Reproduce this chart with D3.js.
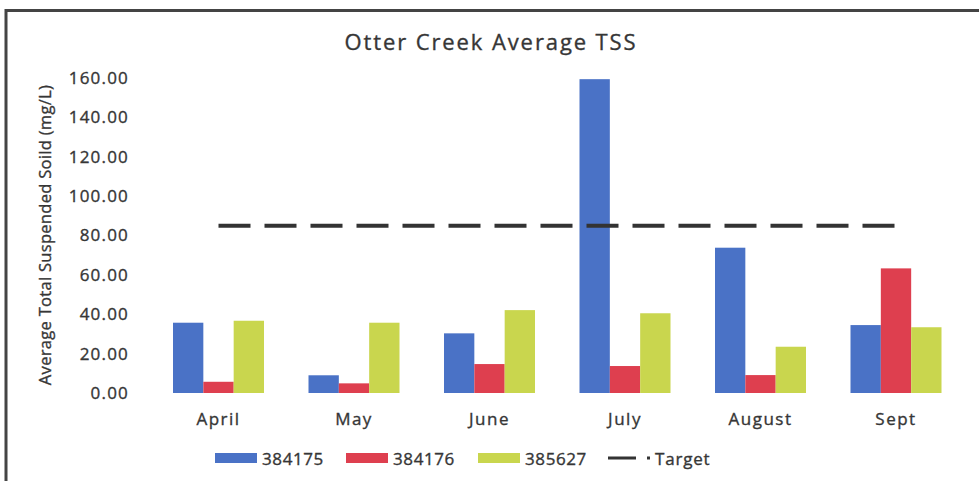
<!DOCTYPE html>
<html>
<head>
<meta charset="utf-8">
<script src="https://cdn.jsdelivr.net/npm/d3@7"></script>
<style>
  body { margin: 0; background: #fff; }
  text { font-family: "Open Sans", sans-serif; fill: #363636; stroke: #363636; stroke-width: 0.35px; }
</style>
</head>
<body>
<svg width="979" height="481"></svg>
<script>
// data
var months = ["April", "May", "June", "July", "August", "Sept"];
var seriesNames = ["384175", "384176", "385627"];
var s384175 = [35.7, 9.0, 30.3, 159.4, 73.8, 34.5];
var s384176 = [5.7, 4.9, 14.7, 13.7, 9.1, 63.3];
var s385627 = [36.7, 35.7, 42.1, 40.5, 23.5, 33.4];
var target = 85;
var yTicks = [0, 20, 40, 60, 80, 100, 120, 140, 160];
var colors = ["#4a72c6", "#de3f4f", "#c9d64e"];

var svg = d3.select("svg");

// frame (top and left edges only, like the scan)
svg.append("line").attr("x1", 6).attr("x2", 979).attr("y1", 10.5).attr("y2", 10.5)
  .attr("stroke", "#444").attr("stroke-width", 3);
svg.append("line").attr("x1", 6).attr("x2", 6).attr("y1", 9).attr("y2", 481)
  .attr("stroke", "#444").attr("stroke-width", 3);

var x = d3.scaleBand().domain(months).range([150.75, 963.75]).padding(0);
var groupW = 91;
var x1 = d3.scaleBand().domain(seriesNames)
  .range([(x.bandwidth() - groupW) / 2, (x.bandwidth() + groupW) / 2]);
var y = d3.scaleLinear().domain([0, 160]).range([393, 78]);

var table = months.map(function(m, i) {
  return {month: m, vals: [s384175[i], s384176[i], s385627[i]]};
});

// title
svg.append("text").attr("x", 491).attr("y", 50).attr("text-anchor", "middle")
  .style("font-size", "22px").style("letter-spacing", "1.9px")
  .text("Otter Creek Average TSS");

// y axis (labels only)
var yAxis = svg.append("g").attr("transform", "translate(129,0)")
  .call(d3.axisLeft(y).tickValues(yTicks).tickFormat(d3.format(".2f")).tickSize(0).tickPadding(0));
yAxis.select(".domain").remove();
yAxis.selectAll("text").style("font-size", "17px").style("letter-spacing", "1.2px")
  .attr("fill", "#363636").style("font-family", "'Open Sans', sans-serif");

svg.append("text")
  .attr("transform", "translate(51," + 235 + ") rotate(-90)")
  .attr("text-anchor", "middle").style("font-size", "16.5px").style("letter-spacing", "0.3px")
  .text("Average Total Suspended Soild (mg/L)");

// x axis labels
var xAxis = svg.append("g").attr("transform", "translate(0,413)")
  .call(d3.axisBottom(x).tickSize(0).tickPadding(0));
xAxis.select(".domain").remove();
xAxis.selectAll("text").style("font-size", "17px").style("letter-spacing", "1.5px")
  .attr("fill", "#363636").style("font-family", "'Open Sans', sans-serif");

// bars
var groups = svg.selectAll(".grp").data(table).enter().append("g")
  .attr("class", "grp")
  .attr("transform", function(d) { return "translate(" + x(d.month) + ",0)"; });
groups.selectAll("rect").data(function(d) { return d.vals; }).enter().append("rect")
  .attr("x", function(d, i) { return x1(seriesNames[i]); })
  .attr("width", x1.bandwidth())
  .attr("y", function(d) { return y(d); })
  .attr("height", function(d) { return y(0) - y(d); })
  .attr("fill", function(d, i) { return colors[i]; });

// target line
svg.append("line")
  .attr("x1", x(months[0]) + x.bandwidth() / 2)
  .attr("x2", x(months[months.length - 1]) + x.bandwidth() / 2)
  .attr("y1", y(target)).attr("y2", y(target))
  .attr("stroke", "#333").attr("stroke-width", 4)
  .attr("stroke-dasharray", "32,14").attr("stroke-linecap", "butt");

// legend
var legX = [215, 346, 478];
seriesNames.forEach(function(n, i) {
  svg.append("rect").attr("x", legX[i]).attr("y", 453).attr("width", 42).attr("height", 10)
    .attr("fill", colors[i]);
  svg.append("text").attr("x", legX[i] + 47).attr("y", 465)
    .style("font-size", "17px").style("letter-spacing", "0.6px").text(n);
});
svg.append("line").attr("x1", 608).attr("x2", 651).attr("y1", 458).attr("y2", 458)
  .attr("stroke", "#333").attr("stroke-width", 3).attr("stroke-dasharray", "28,11,3,20");
svg.append("text").attr("x", 655).attr("y", 465)
  .style("font-size", "17px").style("letter-spacing", "0.8px").text("Target");
</script>
</body>
</html>
